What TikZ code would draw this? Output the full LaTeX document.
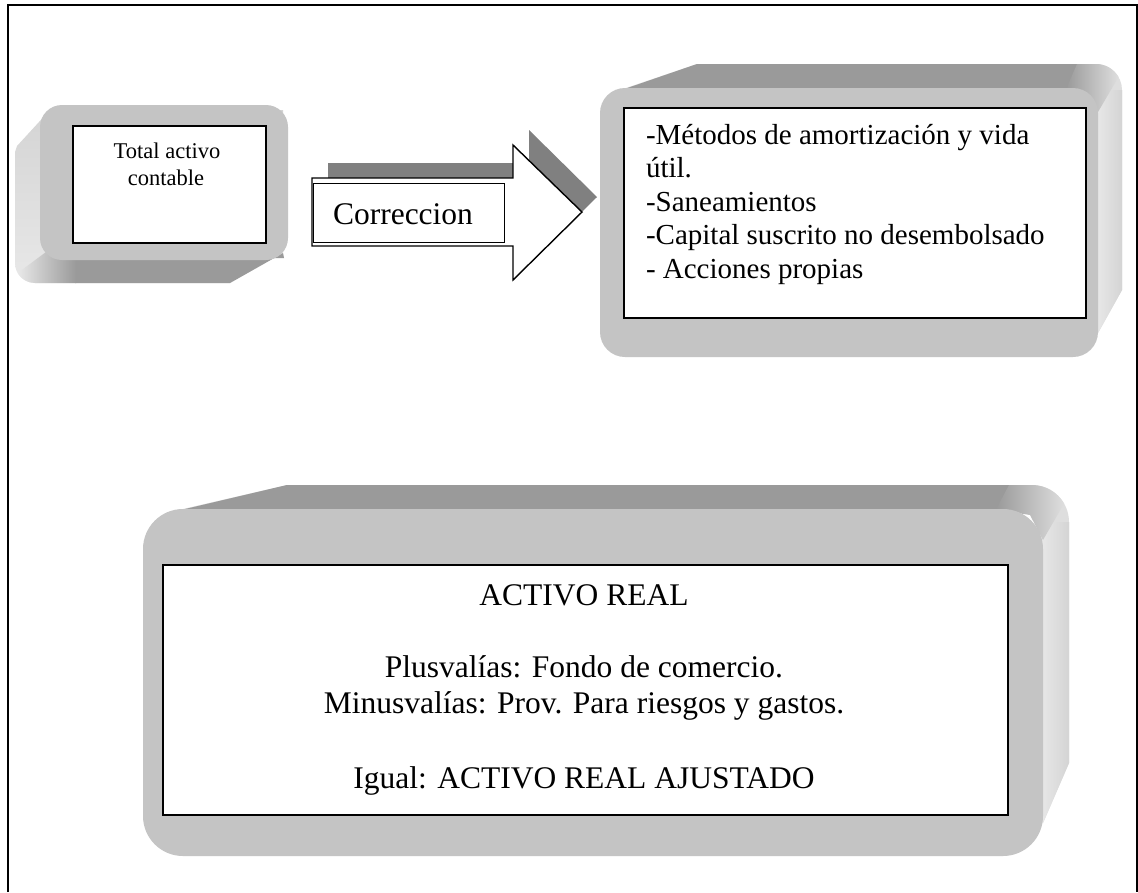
\documentclass[tikz,border=0pt]{standalone}
\usepackage{fontspec}
\setmainfont{Liberation Serif}
\definecolor{facec}{HTML}{C4C4C4}
\definecolor{topc}{HTML}{9A9A9A}
\definecolor{sidec}{HTML}{DEDEDE}
\definecolor{sidelight}{HTML}{E8E8E8}
\definecolor{sidedark}{HTML}{D4D4D4}
\definecolor{shadowc}{HTML}{808080}
\begin{document}
\begin{tikzpicture}[x=1pt,y=-1pt,
  frontface/.style={fill=facec},
  whitebox/.style={draw=black,line width=1.5pt,fill=white},
  txt/.style={inner sep=0pt,outer sep=0pt},
  small/.style={txt,font=\fontsize{22.5}{27}\selectfont},
  mid/.style={txt,font=\fontsize{29}{33}\selectfont},
  big/.style={txt,font=\fontsize{31.5}{36}\selectfont},
  frameline/.style={draw=black,line width=1.8pt}]
\useasboundingbox (0,0) rectangle (1138,892);
\fill[white] (0,0) rectangle (1138,892);

% outer frame
\coordinate (fbl) at (8,892);
\coordinate (ftl) at (8,5);
\coordinate (ftr) at (1137,5);
\coordinate (fbr) at (1137,892);
\draw[frameline] (fbl) -- (ftl) -- (ftr) -- (fbr);

% ---------- box 1 (extruded down-left) ----------
\shade[top color=sidedark,bottom color=sidelight]
  (50,110) -- (17,146) -- (15,152) -- (15,263)
  arc[start angle=180,end angle=90,radius=20] -- (230,283) -- (283,253) -- (283,110) -- cycle;
\fill[topc] (75,258) -- (75,283) -- (230,283) -- (283,253) -- (284,258) -- cycle;
\shade[left color=sidelight,right color=topc]
  (46,252) -- (17.7,273) arc[start angle=150,end angle=90,radius=20] -- (76,283) -- (76,258) -- cycle;
\fill[frontface,rounded corners=22pt] (40,105) rectangle (288,260);
\node[whitebox,minimum width=193pt,minimum height=117pt,anchor=north west,inner sep=0pt] (w1) at (72,125) {};
\node[small,anchor=base] (t1a) at (167,158) {Total activo};
\node[small,anchor=base] (t1b) at (166,185) {contable};

% ---------- arrow ----------
\fill[shadowc] (328,163) -- (529,163) -- (529,130) -- (597,197) -- (529,264) -- (529,231) -- (328,231) -- cycle;
\draw[fill=white,line width=1.4pt] (312,178) -- (513,178) -- (513,145) -- (582,212) -- (513,280) -- (513,246) -- (312,246) -- cycle;
\node[draw=black,line width=1.2pt,fill=white,minimum width=191pt,minimum height=59pt,anchor=north west,inner sep=0pt] (wa) at (313,183) {};
\node[big,anchor=base] (tc) at (403,224) {Correccion};

% ---------- box 2 (extruded up-right) ----------
\fill[sidec]
  (623,89) -- (697,64) -- (1096,64) arc[start angle=-90,end angle=0,radius=26] -- (1122,290) -- (1098,333) -- (1098,89) -- cycle;
\shade[left color=sidelight,right color=sidedark]
  (1096,90) -- (1122,90) -- (1122,290) -- (1098,333) -- (1096,333) -- cycle;
\fill[topc] (623,89.5) -- (697,64) -- (1078,64) -- (1068,89.5) -- cycle;
\shade[left color=topc,right color=sidec]
  (1066,89.5) -- (1077,64) -- (1096,64) arc[start angle=-90,end angle=-30,radius=26] -- (1098,112) -- (1090,95) -- cycle;
\fill[frontface,rounded corners=25pt] (600,88) rectangle (1098,357);
\node[whitebox,minimum width=462pt,minimum height=210pt,anchor=north west,inner sep=0pt] (w2) at (623,107) {};
\node[mid,anchor=base west] (l1) at (646,144) {-Métodos de amortización y vida};
\node[mid,anchor=base west] (l2) at (646,177.5) {útil.};
\node[mid,anchor=base west] (l3) at (646,211) {-Saneamientos};
\node[mid,anchor=base west] (l4) at (646,244.5) {-Capital suscrito no desembolsado};
\node[mid,anchor=base west] (l5) at (646,278) {- Acciones propias};

% ---------- box 3 (extruded up-right) ----------
\fill[sidec]
  (183,509) -- (287,485) -- (1032,485) arc[start angle=-90,end angle=0,radius=37] -- (1069,763) -- (1043,823) -- (1043,509) -- cycle;
\shade[left color=sidelight,right color=sidedark]
  (1040,522) -- (1069,522) -- (1069,763) -- (1043,823) -- (1040,823) -- cycle;
\fill[topc] (183,509.5) -- (287,485) -- (1010,485) -- (998,509.5) -- cycle;
\shade[left color=topc,right color=sidec]
  (996,509.5) -- (1009,485) -- (1032,485) arc[start angle=-90,end angle=-30,radius=37] -- (1043,540) -- (1030,515) -- cycle;
\fill[frontface,rounded corners=40pt] (143,509) rectangle (1043,856);
\node[whitebox,minimum width=845pt,minimum height=250pt,anchor=north west,inner sep=0pt] (w3) at (162,564) {};
\node[big,anchor=base] (m1) at (584,605) {ACTIVO REAL};
\node[big,anchor=base] (m2) at (584,677) {Plusvalías: Fondo de comercio.};
\node[big,anchor=base] (m3) at (584,713) {Minusvalías: Prov. Para riesgos y gastos.};
\node[big,anchor=base] (m4) at (584,788) {Igual: ACTIVO REAL AJUSTADO};
\end{tikzpicture}
\end{document}
